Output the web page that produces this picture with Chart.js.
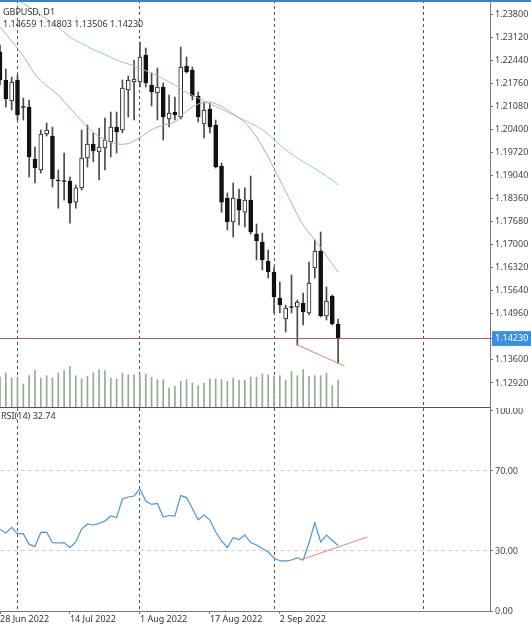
<!DOCTYPE html>
<html>
<head>
<meta charset="utf-8">
<script src="https://cdn.jsdelivr.net/npm/chart.js@4.4.0/dist/chart.umd.min.js"></script>
<style>
  body { margin: 0; background: #fff; }
  #wrap { position: relative; width: 531px; height: 625px; overflow: hidden; font-family: 'Noto Sans', sans-serif; }
  #mainBox { position: absolute; left: 0; top: 0; width: 531px; height: 408px; }
  #rsiBox { position: absolute; left: 0; top: 408px; width: 531px; height: 217px; }
  #topBar { position: absolute; left: 0; top: 0; width: 531px; height: 2px; background: #3b80d2; }
  .lbl { position: absolute; font-size: 9px; line-height: 11px; color: #333; white-space: nowrap; }
</style>
</head>
<body>
<div id="wrap">
  <div id="mainBox"><canvas id="mainChart"></canvas></div>
  <div id="rsiBox"><canvas id="rsiChart"></canvas></div>
  <div id="topBar"></div>
  <div class="lbl" id="symbol" style="left:3px; top:6px;"></div>
  <div class="lbl" id="ohlc" style="left:3px; top:18px;"></div>
  <div class="lbl" id="rsiTitle" style="left:1px; top:410px;"></div>
</div>
<script>
// GBPUSD D1, 28 Jun 2022 .. 16 Sep 2022 (bar index 0..58)
const symbolName = 'GBPUSD, D1';

const opens = [1.22688,1.21854,1.21235,1.21854,1.21058,1.21058,1.19524,1.19200,1.20261,1.20202,
  1.18890,1.18876,1.18876,1.18254,1.18672,1.19554,1.19966,1.19731,1.19848,1.20025,
  1.20468,1.20379,1.21559,1.21795,1.21795,1.22591,1.21706,1.21470,1.21647,1.20704,
  1.20910,1.20763,1.22267,1.22149,1.21382,1.20556,1.20999,1.20527,1.19318,1.18373,
  1.17666,1.18343,1.17954,1.18313,1.17312,1.17077,1.16517,1.16192,1.15425,1.14806,
  1.15159,1.15159,1.15277,1.14983,1.16310,1.16811,1.14894,1.15484,1.14659];
const highs = [1.22886,1.22178,1.21942,1.22001,1.21323,1.21264,1.19878,1.20379,1.20586,1.20468,
  1.19200,1.19701,1.18994,1.18757,1.20379,1.20527,1.20291,1.20438,1.20733,1.20910,
  1.20910,1.21854,1.21972,1.22444,1.22974,1.22798,1.22060,1.22208,1.21765,1.21411,
  1.21352,1.22827,1.22532,1.22237,1.21500,1.21205,1.21176,1.20674,1.19406,1.18521,
  1.18817,1.18639,1.18672,1.19023,1.17607,1.17342,1.16841,1.16339,1.15897,1.15218,
  1.16103,1.15366,1.15572,1.16487,1.17137,1.17371,1.15749,1.15513,1.14803];
const lows = [1.21706,1.21058,1.20969,1.20674,1.20674,1.18994,1.18817,1.19111,1.20202,1.18698,
  1.18074,1.18313,1.17630,1.18074,1.18610,1.19288,1.19439,1.18905,1.19200,1.19583,
  1.19701,1.20291,1.20763,1.20674,1.21647,1.21647,1.21087,1.20674,1.20084,1.20468,
  1.20674,1.20704,1.22060,1.21264,1.20615,1.20143,1.20291,1.19258,1.17954,1.17430,
  1.17224,1.17578,1.17519,1.17312,1.16546,1.16253,1.16015,1.14983,1.14983,1.14422,
  1.14983,1.14039,1.14629,1.14924,1.16015,1.14865,1.14776,1.14629,1.13506];
const closes = [1.21854,1.21294,1.21795,1.20822,1.21043,1.19583,1.19258,1.20261,1.20379,1.18935,
  1.18876,1.18861,1.18224,1.18672,1.19554,1.19966,1.19760,1.19878,1.20084,1.20468,
  1.20320,1.21618,1.21854,1.21883,1.22532,1.21765,1.21500,1.21647,1.20763,1.20881,
  1.20822,1.22237,1.22090,1.21382,1.20763,1.20969,1.20468,1.19288,1.18254,1.17666,
  1.18373,1.18015,1.18313,1.17371,1.17106,1.16546,1.16192,1.15455,1.15218,1.15130,
  1.15145,1.15307,1.15012,1.15867,1.16811,1.14894,1.15336,1.14658,1.14230];

// tick volume, thousands
const volumes = [90,102,87,90,69,94,110,87,94,87,
  102,109,122,94,84,92,102,112,109,87,
  84,102,97,97,99,99,89,82,82,57,
  62,77,82,72,64,72,84,84,82,77,
  87,80,80,90,90,99,96,93,94,80,
  107,94,112,92,94,94,102,64,80];

// moving averages read every second bar
const maIdx = [0,2,4,6,8,10,12,14,16,18,20,22,24,26,28,30,32,34,36,38,40,42,44,46,48,50,52,54,56,58];
const maFast = [1.23417,1.23004,1.22562,1.22031,1.21677,1.21411,1.21028,1.20645,1.20320,1.20084,
  1.19966,1.19981,1.20158,1.20388,1.20527,1.20615,1.20940,1.21146,1.21205,1.21072,
  1.20851,1.20601,1.20173,1.19583,1.18905,1.18224,1.17578,1.17137,1.16664,1.16192];
const maSlow = [1.24508,1.24301,1.24110,1.23889,1.23653,1.23417,1.23122,1.22930,1.22753,1.22606,
  1.22444,1.22326,1.22193,1.22060,1.21883,1.21706,1.21485,1.21323,1.21146,1.20999,
  1.20822,1.20660,1.20497,1.20261,1.19937,1.19672,1.19439,1.19244,1.19023,1.18757];

const rsi = [40.8,39,41.8,38.7,38.7,33.3,32.3,39.3,39.4,34.2,
  34,34.2,31.6,34.5,41,43.5,43,43.8,45,47.5,
  46.7,56,57,57.5,61.1,55,53.3,53.8,47,47.75,
  47.5,57.7,56.7,51.25,45.65,48,45.5,39.5,35,31.75,
  36.7,35.75,38,34.25,33,31.25,29.5,26.5,25.15,24.9,
  25.5,26.5,25.5,34,44.15,34.5,38,35.25,32.74];

// hand drawn trend lines
const priceTrendIdx = [51, 59.1];
const priceTrendVal = [1.14039, 1.13420];
const rsiTrendIdx = [51.5, 63];
const rsiTrendVal = [25.5, 37];

// axes
const priceTicks = [1.238,1.2312,1.2244,1.2176,1.2108,1.204,1.1972,1.1904,1.1836,1.1768,
  1.17,1.1632,1.1564,1.1496,1.1423,1.136,1.1292];
const rsiTicks = [0, 30, 70, 100];
const dateTickIdx = [0, 12, 24, 36, 48];
const dateTickText = ['28 Jun 2022', '14 Jul 2022', '1 Aug 2022', '17 Aug 2022', '2 Sep 2022'];
const gridIdx = [3, 24, 47, 72.7];

const xMin = 0, xMax = 84.05;
const priceMax = 1.24213, priceMin = 1.12211;
const volMax = 1221;
const rsiMin = 0, rsiMax = 101.5;

const last = closes.length - 1;
const lastClose = closes[last];
const idx = closes.map((c, i) => i);
const fontFamily = "'Noto Sans', sans-serif";

Chart.defaults.font.family = fontFamily;
Chart.defaults.font.size = 9;
Chart.defaults.animation = false;

document.getElementById('symbol').textContent = symbolName;
document.getElementById('ohlc').textContent =
  [opens[last], highs[last], lows[last], closes[last]].map(v => v.toFixed(5)).join(' ');
document.getElementById('rsiTitle').textContent = 'RSI(14) ' + rsi[last].toFixed(2);

const isUp = i => closes[i] >= opens[i];

// grafico principal: velas, medias, volumen
new Chart(document.getElementById('mainChart'), {
  type: 'bar',
  data: {
    datasets: [
      {
        type: 'line', data: maIdx.map((i, k) => ({x: i, y: maFast[k]})),
        borderColor: '#d99ca6', borderWidth: 1, pointRadius: 0, tension: 0.3, yAxisID: 'y'
      },
      {
        type: 'line', data: maIdx.map((i, k) => ({x: i, y: maSlow[k]})),
        borderColor: '#8fcdb9', borderWidth: 1, pointRadius: 0, tension: 0.3, yAxisID: 'y'
      },
      {
        type: 'line', data: priceTrendIdx.map((i, k) => ({x: i, y: priceTrendVal[k]})),
        borderColor: '#df7f6e', borderWidth: 1, pointRadius: 0, yAxisID: 'y'
      },
      {
        type: 'line', data: [{x: xMin, y: lastClose}, {x: xMax, y: lastClose}],
        borderColor: '#a25858', borderWidth: 1, pointRadius: 0, yAxisID: 'y'
      },
      {
        // cuerpos
        data: idx.map(i => ({x: i, y: [opens[i], closes[i]]})),
        backgroundColor: ctx => isUp(ctx.dataIndex) ? '#ffffff' : '#111111',
        borderColor: ctx => isUp(ctx.dataIndex) ? '#222222' : '#111111',
        borderWidth: 1, borderSkipped: false, barThickness: 4, minBarLength: 1,
        grouped: false, yAxisID: 'y'
      },
      {
        // mechas
        data: idx.map(i => ({x: i, y: [lows[i], highs[i]]})),
        backgroundColor: '#4a4a4a', barThickness: 1, grouped: false, yAxisID: 'y'
      },
      {
        data: idx.map(i => ({x: i, y: volumes[i]})),
        backgroundColor: '#93ab93', barThickness: 1, grouped: false, yAxisID: 'yv'
      }
    ]
  },
  options: {
    responsive: true,
    maintainAspectRatio: false,
    layout: { padding: 0 },
    events: [],
    plugins: { legend: { display: false }, tooltip: { enabled: false } },
    scales: {
      x: {
        type: 'linear', min: xMin, max: xMax, offset: false,
        afterBuildTicks: s => { s.ticks = gridIdx.map(v => ({value: v})); },
        ticks: { display: false },
        grid: { color: '#555', drawTicks: false, offset: false },
        border: { display: true, color: '#555', dash: [3, 3] },
        afterFit: s => { s.height = 1; s.paddingLeft = 0; s.paddingRight = 0; }
      },
      y: {
        type: 'linear', position: 'right', min: priceMin, max: priceMax,
        afterBuildTicks: s => { s.ticks = priceTicks.map(v => ({value: v})); },
        ticks: {
          autoSkip: false, padding: 2,
          color: ctx => ctx.tick && ctx.tick.value === lastClose ? '#ffffff' : '#444',
          showLabelBackdrop: ctx => !!ctx.tick && ctx.tick.value === lastClose,
          backdropColor: '#3a8ee6',
          backdropPadding: { top: 2, bottom: 2, left: 3, right: 8 },
          callback: v => v.toFixed(5)
        },
        grid: { drawOnChartArea: false, tickLength: 3, color: '#777' },
        border: { color: '#777' },
        afterFit: s => { s.width = 41; s.paddingTop = 0; s.paddingBottom = 0; }
      },
      yv: { type: 'linear', display: false, min: 0, max: volMax }
    }
  }
});

// RSI
new Chart(document.getElementById('rsiChart'), {
  type: 'line',
  data: {
    datasets: [
      {
        data: rsiTrendIdx.map((i, k) => ({x: i, y: rsiTrendVal[k]})),
        borderColor: '#e0857a', borderWidth: 1, pointRadius: 0
      },
      {
        data: idx.map(i => ({x: i, y: rsi[i]})),
        borderColor: '#4a98d4', borderWidth: 1.2, pointRadius: 0, tension: 0
      }
    ]
  },
  options: {
    responsive: true,
    maintainAspectRatio: false,
    layout: { padding: 0 },
    events: [],
    plugins: { legend: { display: false }, tooltip: { enabled: false } },
    scales: {
      x: {
        type: 'linear', position: 'bottom', min: xMin, max: xMax, offset: false,
        afterBuildTicks: s => { s.ticks = dateTickIdx.map(v => ({value: v})); },
        ticks: {
          autoSkip: false, maxRotation: 0, align: 'start', padding: 0, color: '#333',
          callback: (v, k) => dateTickText[k]
        },
        grid: { drawOnChartArea: false, tickLength: 3, color: '#777', offset: false },
        border: { color: '#777' },
        afterFit: s => { s.height = 14; s.paddingLeft = 0; s.paddingRight = 0; }
      },
      x2: {
        type: 'linear', position: 'top', min: xMin, max: xMax, offset: false,
        afterBuildTicks: s => { s.ticks = gridIdx.map(v => ({value: v})); },
        ticks: { display: false },
        grid: { color: '#555', drawTicks: false, offset: false },
        border: { display: false, dash: [3, 3] },
        afterFit: s => { s.height = 0; s.paddingLeft = 0; s.paddingRight = 0; }
      },
      y: {
        type: 'linear', position: 'right', min: rsiMin, max: rsiMax,
        afterBuildTicks: s => { s.ticks = rsiTicks.map(v => ({value: v})); },
        ticks: { autoSkip: false, padding: 2, color: '#444', callback: v => v.toFixed(2) },
        grid: {
          color: ctx => ctx.tick && (ctx.tick.value === 30 || ctx.tick.value === 70) ? '#cfcfcf' : 'rgba(0,0,0,0)',
          tickColor: '#777', tickLength: 3
        },
        border: { color: '#777', dash: [4, 3] },
        afterFit: s => { s.width = 41; s.paddingTop = 0; s.paddingBottom = 0; }
      }
    }
  }
});
</script>
</body>
</html>
